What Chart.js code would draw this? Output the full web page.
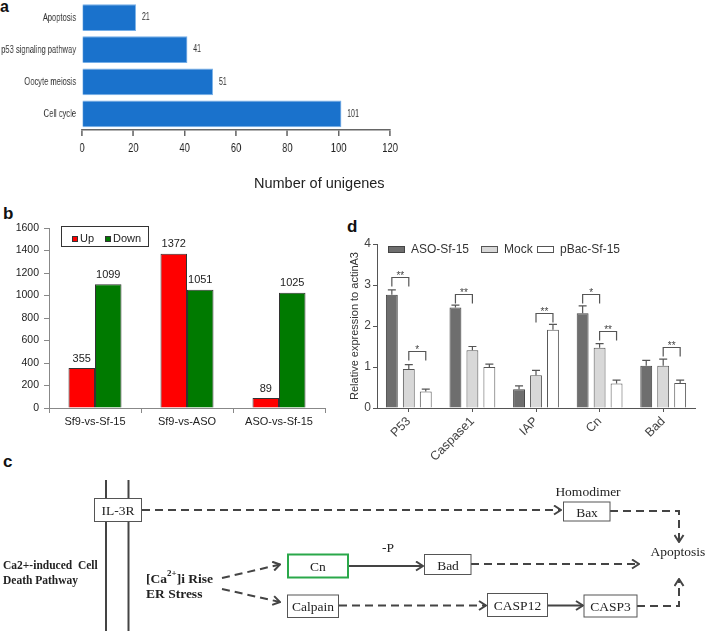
<!DOCTYPE html>
<html>
<head>
<meta charset="utf-8">
<script src="https://cdn.jsdelivr.net/npm/chart.js@4.4.1/dist/chart.umd.min.js"></script>
<style>
  body { margin: 0; background: #fff; width: 708px; height: 631px; position: relative; overflow: hidden; font-family: Arial, "Liberation Sans", sans-serif; }
  canvas, svg, .tag, .axis-title { position: absolute; }
  .tag { font-weight: bold; font-size: 17px; line-height: 17px; color: #111; }
  .axis-title { font-size: 14.5px; line-height: 17px; color: #222; white-space: nowrap; }
  .box { fill: #fff; stroke: #555; stroke-width: 1; }
  .dash { stroke: #444; stroke-width: 2; stroke-dasharray: 8 5; fill: none; }
  .solid { stroke: #444; stroke-width: 2; fill: none; }
</style>
</head>
<body>
<div class="tag" style="left:0;top:-2px;font-size:16px">a</div>
<div class="tag" style="left:3px;top:205px">b</div>
<div class="tag" style="left:3px;top:453px">c</div>
<div class="tag" style="left:347px;top:218px">d</div>

<!-- a: a figura original foi comprimida na horizontal, por isso o canvas e reduzido via CSS -->
<canvas id="chartA" width="600" height="195" style="left:0;top:0;width:420px;height:195px"></canvas>
<div class="axis-title" style="left:254px;top:175px">Number of unigenes</div>
<canvas id="chartB" width="335" height="230" style="left:0;top:205px"></canvas>
<canvas id="chartD" width="378" height="262" style="left:330px;top:205px"></canvas>

<!-- c: via de morte celular -->
<svg width="708" height="176" style="left:0;top:455px" font-family='"Liberation Serif", "Times New Roman", serif' fill="#222">
  <defs>
    <marker id="arr" viewBox="0 0 9 11" refX="8" refY="5.5" markerWidth="9" markerHeight="11" markerUnits="userSpaceOnUse" orient="auto">
      <path d="M1,1 L8,5.5 L1,10" fill="none" stroke="#444" stroke-width="2"/>
    </marker>
  </defs>
  <line x1="106" y1="25" x2="106" y2="176" class="solid"/>
  <line x1="128.5" y1="25" x2="128.5" y2="176" class="solid"/>

  <line x1="142" y1="55" x2="561" y2="55" class="dash" marker-end="url(#arr)"/>
  <polyline points="610,56 679,56 679,87" class="dash" marker-end="url(#arr)"/>
  <polyline points="637,151 679,151 679,124" class="dash" marker-end="url(#arr)"/>
  <line x1="471" y1="109" x2="639" y2="109" class="dash" marker-end="url(#arr)"/>
  <line x1="348" y1="111" x2="423" y2="111" class="solid" marker-end="url(#arr)"/>
  <line x1="222" y1="123" x2="280" y2="109.5" class="dash" marker-end="url(#arr)"/>
  <line x1="222" y1="134" x2="280" y2="147" class="dash" marker-end="url(#arr)"/>
  <line x1="339" y1="150.5" x2="486" y2="150.5" class="dash" marker-end="url(#arr)"/>
  <line x1="547.5" y1="150.5" x2="583" y2="150.5" class="solid" marker-end="url(#arr)"/>

  <rect x="94.5" y="43.5" width="47" height="23" class="box"/>
  <rect x="563.5" y="47" width="46.5" height="19" class="box"/>
  <rect x="288" y="99.5" width="60" height="23" fill="#fff" stroke="#2aa84a" stroke-width="2"/>
  <rect x="424.5" y="99.5" width="46.5" height="20" class="box"/>
  <rect x="287.5" y="140" width="51" height="22.5" class="box"/>
  <rect x="487.5" y="138.5" width="60" height="23" class="box"/>
  <rect x="584" y="140" width="53" height="22" class="box"/>

  <g font-size="13.5" text-anchor="middle" dominant-baseline="central">
    <text x="118" y="55">IL-3R</text>
    <text x="587" y="57">Bax</text>
    <text x="588" y="36">Homodimer</text>
    <text x="678" y="96">Apoptosis</text>
    <text x="318" y="111">Cn</text>
    <text x="448" y="110">Bad</text>
    <text x="388" y="92">-P</text>
    <text x="313" y="151.5">Calpain</text>
    <text x="517.5" y="150">CASP12</text>
    <text x="610.5" y="151">CASP3</text>
  </g>
  <g font-weight="bold" dominant-baseline="central">
    <text x="146" y="123" font-size="13.5">[Ca<tspan font-size="9" dy="-5">2+</tspan><tspan dy="5">]i Rise</tspan></text>
    <text x="146" y="138" font-size="13.5">ER Stress</text>
    <text x="3" y="109.5" font-size="11.5" style="white-space:pre">Ca2+-induced  Cell</text>
    <text x="3" y="124.5" font-size="11.5">Death Pathway</text>
  </g>
</svg>

<script>
// ==============================
// Dados
// ==============================
const pathways = ["Apoptosis", "p53 signaling pathway", "Oocyte meiosis", "Cell cycle"];
const unigenes = [21, 41, 51, 101];

const comparisons = ["Sf9-vs-Sf-15", "Sf9-vs-ASO", "ASO-vs-Sf-15"];
const upGenes = [355, 1372, 89];
const downGenes = [1099, 1051, 1025];

const genes = ["P53", "Caspase1", "IAP", "Cn", "Bad"];
const asoExpr = [2.76, 2.45, 0.46, 2.31, 1.03];
const asoErr = [0.12, 0.06, 0.08, 0.18, 0.13];
const mockExpr = [0.95, 1.41, 0.8, 1.47, 1.03];
const mockErr = [0.11, 0.09, 0.12, 0.1, 0.16];
const pbacExpr = [0.4, 1.0, 1.91, 0.6, 0.61];
const pbacErr = [0.06, 0.07, 0.13, 0.08, 0.07];

// significancia: gene, serie de, serie ate, altura do colchete, texto
const sigGene = [0, 0, 1, 2, 3, 3, 4];
const sigFrom = [0, 1, 0, 1, 0, 1, 1];
const sigTo = [1, 2, 1, 2, 1, 2, 2];
const sigLevel = [3.2, 1.38, 2.79, 2.32, 2.79, 1.88, 1.5];
const sigText = ["**", "*", "**", "**", "*", "**", "**"];

const ARIAL = "Arial, 'Liberation Sans', sans-serif";
const SQUEEZE = 0.7; // compressao horizontal do painel a

// ==============================
// Plugins
// ==============================
const valueLabels = {
  id: "valueLabels",
  afterDatasetsDraw(chart, args, opts) {
    const ctx = chart.ctx;
    ctx.save();
    ctx.font = opts.font;
    ctx.fillStyle = opts.color;
    chart.data.datasets.forEach((ds, i) => {
      chart.getDatasetMeta(i).data.forEach((bar, j) => {
        const txt = String(ds.data[j]);
        if (opts.horizontal) {
          ctx.textAlign = "left";
          ctx.textBaseline = "middle";
          ctx.fillText(txt, bar.x + opts.offset, bar.y);
        } else {
          ctx.textAlign = "center";
          ctx.textBaseline = "bottom";
          ctx.fillText(txt, bar.x, bar.y - opts.offset);
        }
      });
    });
    ctx.restore();
  },
};

const boxLegend = {
  id: "boxLegend",
  afterDraw(chart, args, opts) {
    const ctx = chart.ctx;
    ctx.save();
    if (opts.frame) {
      const f = opts.frame;
      ctx.strokeStyle = "#333";
      ctx.lineWidth = 1;
      ctx.strokeRect(f[0] + 0.5, f[1] + 0.5, f[2], f[3]);
    }
    ctx.font = opts.font;
    ctx.textAlign = "left";
    ctx.textBaseline = "middle";
    chart.data.datasets.forEach((ds, i) => {
      const x = opts.xs[i];
      const top = opts.y - opts.boxH / 2;
      ctx.fillStyle = ds.backgroundColor;
      ctx.fillRect(x, top, opts.boxW, opts.boxH);
      ctx.strokeStyle = ds.borderColor;
      ctx.lineWidth = 1;
      ctx.strokeRect(x + 0.5, top + 0.5, opts.boxW - 1, opts.boxH - 1);
      ctx.fillStyle = opts.color;
      ctx.fillText(ds.label, x + opts.boxW + opts.gap, opts.y);
    });
    ctx.restore();
  },
};

const errorBars = {
  id: "errorBars",
  afterDatasetsDraw(chart) {
    const ctx = chart.ctx;
    const y = chart.scales.y;
    ctx.save();
    ctx.strokeStyle = "#555";
    ctx.lineWidth = 1.2;
    chart.data.datasets.forEach((ds, i) => {
      chart.getDatasetMeta(i).data.forEach((bar, j) => {
        const top = y.getPixelForValue(ds.data[j] + ds.errors[j]);
        ctx.beginPath();
        ctx.moveTo(bar.x, bar.y);
        ctx.lineTo(bar.x, top);
        ctx.moveTo(bar.x - 4, top);
        ctx.lineTo(bar.x + 4, top);
        ctx.stroke();
      });
    });

    // colchetes de significancia
    ctx.font = "10px " + ARIAL;
    ctx.fillStyle = "#444";
    ctx.textAlign = "center";
    ctx.textBaseline = "alphabetic";
    sigGene.forEach((g, k) => {
      const xa = chart.getDatasetMeta(sigFrom[k]).data[g].x;
      const xb = chart.getDatasetMeta(sigTo[k]).data[g].x;
      const yt = Math.round(y.getPixelForValue(sigLevel[k])) + 0.5;
      ctx.beginPath();
      ctx.moveTo(xa, yt + 9);
      ctx.lineTo(xa, yt);
      ctx.lineTo(xb, yt);
      ctx.lineTo(xb, yt + 9);
      ctx.stroke();
      ctx.fillText(sigText[k], (xa + xb) / 2, yt + 1);
    });
    ctx.restore();
  },
};

// ==============================
// a - vias KEGG (barras horizontais)
// ==============================
new Chart(document.getElementById("chartA"), {
  type: "bar",
  data: {
    labels: pathways,
    datasets: [
      {
        label: "Number of unigenes",
        data: unigenes,
        backgroundColor: "#1a72cc",
        borderColor: "#74aee8",
        borderWidth: 1,
        barPercentage: 0.83,
        categoryPercentage: 1,
      },
    ],
  },
  options: {
    indexAxis: "y",
    responsive: false,
    animation: false,
    layout: { padding: { top: 1.5, right: 600 - 390 / SQUEEZE, left: 0, bottom: 0 } },
    plugins: {
      legend: { display: false },
      tooltip: { enabled: false },
      valueLabels: { horizontal: true, offset: 6 / SQUEEZE, font: "10px " + ARIAL, color: "#333" },
    },
    scales: {
      x: {
        min: 0,
        max: 120,
        afterFit: (s) => {
          s.height = 65;
          s.paddingLeft = 0;
          s.paddingRight = 0;
        },
        ticks: { stepSize: 20, padding: 4, color: "#222", font: { size: 13.5, family: ARIAL } },
        grid: { drawOnChartArea: false, tickLength: 6, color: "#666", lineWidth: 2 },
        border: { color: "#666", width: 1.5 },
      },
      y: {
        afterFit: (s) => {
          s.width = 82 / SQUEEZE;
          s.paddingTop = 0;
          s.paddingBottom = 0;
        },
        ticks: { padding: 6 / SQUEEZE, color: "#333", font: { size: 10.8, family: ARIAL } },
        grid: { display: false, drawTicks: false, tickLength: 0 },
        border: { display: false },
      },
    },
  },
  plugins: [valueLabels],
});

// ==============================
// b - genes diferenciais (Up / Down)
// ==============================
new Chart(document.getElementById("chartB"), {
  type: "bar",
  data: {
    labels: comparisons,
    datasets: [
      { label: "Up", data: upGenes, backgroundColor: "#ff0000", borderColor: "#333", borderWidth: 1 },
      { label: "Down", data: downGenes, backgroundColor: "#007a00", borderColor: "#333", borderWidth: 1 },
    ],
  },
  options: {
    responsive: false,
    animation: false,
    datasets: { bar: { categoryPercentage: 0.576, barPercentage: 1 } },
    layout: { padding: { top: 23, right: 10, left: 0, bottom: 0 } },
    plugins: {
      legend: { display: false },
      tooltip: { enabled: false },
      valueLabels: { horizontal: false, offset: 4, font: "11px " + ARIAL, color: "#222" },
      boxLegend: { xs: [72, 105], y: 34, boxW: 6, boxH: 6, gap: 2, font: "11px " + ARIAL, color: "#222", frame: [61, 21, 87, 20] },
    },
    scales: {
      x: {
        afterFit: (s) => { s.height = 27; },
        ticks: { padding: 2, color: "#222", font: { size: 11, family: ARIAL } },
        grid: { drawOnChartArea: false, tickLength: 5, color: "#888" },
        border: { color: "#888" },
      },
      y: {
        min: 0,
        max: 1600,
        afterFit: (s) => { s.width = 49; },
        ticks: { stepSize: 200, padding: 5, color: "#222", font: { size: 10.5, family: ARIAL }, callback: (v) => String(v) },
        grid: { drawOnChartArea: false, tickLength: 5, color: "#888" },
        border: { color: "#888" },
      },
    },
  },
  plugins: [valueLabels, boxLegend],
});

// ==============================
// d - qPCR (expressao relativa)
// ==============================
new Chart(document.getElementById("chartD"), {
  type: "bar",
  data: {
    labels: genes,
    datasets: [
      { label: "ASO-Sf-15", data: asoExpr, errors: asoErr, backgroundColor: "#6e6e6e", borderColor: "#444", borderWidth: 1 },
      { label: "Mock", data: mockExpr, errors: mockErr, backgroundColor: "#d8d8d8", borderColor: "#555", borderWidth: 1 },
      { label: "pBac-Sf-15", data: pbacExpr, errors: pbacErr, backgroundColor: "#ffffff", borderColor: "#555", borderWidth: 1 },
    ],
  },
  options: {
    responsive: false,
    animation: false,
    datasets: { bar: { categoryPercentage: 0.8, barPercentage: 0.7 } },
    layout: { padding: { top: 39, right: 13, left: 0, bottom: 0 } },
    plugins: {
      legend: { display: false },
      tooltip: { enabled: false },
      boxLegend: { xs: [58, 151, 207], y: 44.5, boxW: 17, boxH: 7, gap: 6, font: "12px " + ARIAL, color: "#333" },
    },
    scales: {
      x: {
        afterFit: (s) => { s.height = 59; },
        ticks: { minRotation: 45, maxRotation: 45, padding: 2, color: "#444", font: { size: 12.5, family: ARIAL } },
        grid: { offset: false, drawOnChartArea: false, tickLength: 4, color: "#555" },
        border: { color: "#555" },
      },
      y: {
        min: 0,
        max: 4,
        afterFit: (s) => { s.width = 47; },
        ticks: { stepSize: 1, padding: 2, color: "#444", font: { size: 12, family: ARIAL } },
        grid: { drawOnChartArea: false, tickLength: 4, color: "#555" },
        border: { color: "#555" },
        title: {
          display: true,
          text: "Relative expression to actinA3",
          color: "#333",
          font: { size: 11, family: ARIAL },
          padding: { top: 18, bottom: 0 },
        },
      },
    },
  },
  plugins: [errorBars, boxLegend],
});
</script>
</body>
</html>
